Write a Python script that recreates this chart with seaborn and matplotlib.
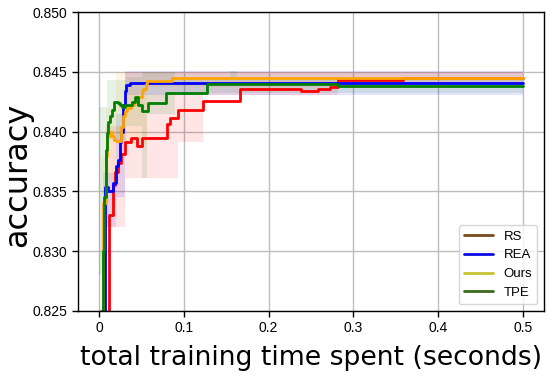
import pandas as pd
import matplotlib
matplotlib.use('Agg')
import matplotlib.pyplot as plt
from matplotlib.lines import Line2D
import seaborn as sns

# step curves (best accuracy so far vs time)
rs_t = [0.008, 0.012, 0.016, 0.019, 0.022, 0.026, 0.030, 0.038, 0.045, 0.051, 0.080, 0.084, 0.093,
        0.122, 0.166, 0.238, 0.258, 0.272, 0.282, 0.359, 0.500]
rs_acc = [0.800, 0.8330, 0.8355, 0.8366, 0.8374, 0.8381, 0.8391, 0.8395, 0.8388, 0.8395, 0.8406, 0.8411, 0.8418,
          0.8426, 0.8436, 0.8434, 0.8436, 0.8437, 0.8443, 0.8445, 0.8445]

rea_t = [0.005, 0.007, 0.010, 0.016, 0.020, 0.022, 0.025, 0.026, 0.028, 0.030, 0.032, 0.036, 0.500]
rea_acc = [0.800, 0.8354, 0.8350, 0.8357, 0.8371, 0.8376, 0.8391, 0.8400, 0.8422, 0.8434, 0.8439, 0.8441, 0.8441]

ours_t = [0.002, 0.005, 0.008, 0.0095, 0.0125, 0.0155, 0.0175, 0.020, 0.0255, 0.028, 0.031, 0.033, 0.037,
          0.041, 0.045, 0.050, 0.052, 0.055, 0.057, 0.086, 0.500]
ours_acc = [0.800, 0.8340, 0.8380, 0.8396, 0.8400, 0.8396, 0.8393, 0.8392, 0.8404, 0.8413, 0.8417, 0.8420, 0.8422,
            0.8425, 0.8429, 0.8434, 0.8436, 0.8440, 0.8442, 0.8445, 0.8445]

tpe_t = [0.000, 0.002, 0.004, 0.006, 0.0075, 0.009, 0.010, 0.0125, 0.015, 0.0175, 0.0222, 0.025, 0.0275,
         0.030, 0.0385, 0.042, 0.046, 0.051, 0.058, 0.079, 0.127, 0.282, 0.500]
tpe_acc = [0.780, 0.8250, 0.8300, 0.8345, 0.8385, 0.8399, 0.8408, 0.8413, 0.8418, 0.8425, 0.8424, 0.8422, 0.8421,
           0.8422, 0.8425, 0.8429, 0.8422, 0.8417, 0.8424, 0.8432, 0.8440, 0.8438, 0.8438]

# shaded spread bands
rs_band_t = [0.008, 0.030, 0.093, 0.122, 0.282, 0.500]
rs_lo = [0.8320, 0.8361, 0.8391, 0.8431, 0.8441, 0.8441]
rs_hi = [0.8405, 0.8450, 0.8450, 0.8450, 0.8450, 0.8450]

rea_band_t = [0.005, 0.020, 0.030, 0.500]
rea_lo = [0.8320, 0.8345, 0.8431, 0.8431]
rea_hi = [0.8365, 0.8415, 0.8451, 0.8451]

ours_band_t = [0.002, 0.008, 0.020, 0.057, 0.500]
ours_lo = [0.8290, 0.8360, 0.8390, 0.8437, 0.8437]
ours_hi = [0.8380, 0.8420, 0.8450, 0.8450, 0.8450]

tpe_band_t = [0.000, 0.009, 0.032, 0.050, 0.057, 0.089, 0.155, 0.163, 0.500]
tpe_lo = [0.8280, 0.8393, 0.8405, 0.8361, 0.8415, 0.8432, 0.8432, 0.8432, 0.8431]
tpe_hi = [0.8421, 0.8443, 0.8446, 0.8450, 0.8450, 0.8445, 0.8451, 0.8445, 0.8445]

methods = ['RS', 'REA', 'Ours', 'TPE']
line_colors = ['#ff0000', '#0000ff', '#ffa500', '#008000']
legend_colors = ['#7b4a1c', '#0a0ae6', '#c9c232', '#3b6a18']

frames = []
for name, t, acc in zip(methods, [rs_t, rea_t, ours_t, tpe_t], [rs_acc, rea_acc, ours_acc, tpe_acc]):
    frames.append(pd.DataFrame({'time': t, 'accuracy': acc, 'method': name}))
df = pd.concat(frames, ignore_index=True)

bands = [(rs_band_t, rs_lo, rs_hi), (rea_band_t, rea_lo, rea_hi),
         (ours_band_t, ours_lo, ours_hi), (tpe_band_t, tpe_lo, tpe_hi)]

sns.set_theme(style='ticks')
plt.rcParams['font.family'] = ['Liberation Sans', 'DejaVu Sans']
plt.rcParams['text.color'] = 'black'
plt.rcParams['axes.labelcolor'] = 'black'

fig = plt.figure(figsize=(5.5, 3.76), dpi=100)
ax = fig.add_axes([0.1418, 0.1729, 0.8472, 0.7951])

for (bt, lo, hi), c in zip(bands, line_colors):
    ax.fill_between(bt, lo, hi, step='post', color=c, alpha=0.1, linewidth=0)

sns.lineplot(data=df, x='time', y='accuracy', hue='method', hue_order=methods,
             palette=line_colors, estimator=None, sort=False, drawstyle='steps-post',
             linewidth=2, legend=False, ax=ax)

ax.set_xlim(-0.025, 0.525)
ax.set_ylim(0.825, 0.850)
ax.set_xticks([0, 0.1, 0.2, 0.3, 0.4, 0.5])
ax.set_xticklabels(['0', '0.1', '0.2', '0.3', '0.4', '0.5'])
ax.set_yticks([0.825, 0.830, 0.835, 0.840, 0.845, 0.850])
ax.set_yticklabels(['0.825', '0.830', '0.835', '0.840', '0.845', '0.850'])
ax.tick_params(labelsize=10, colors='black', length=4, width=1)
ax.grid(True, color='#bdbdbd', linewidth=1)
for s in ax.spines.values():
    s.set_color('black')
    s.set_linewidth(1)

ax.set_xlabel('total training time spent (seconds)', fontsize=19.2, family='DejaVu Sans', labelpad=7)
ax.set_ylabel('accuracy', fontsize=23, family='DejaVu Sans')
ax.yaxis.set_label_coords(-0.096, 0.455)

handles = [Line2D([0], [0], color=c, lw=2) for c in legend_colors]
ax.legend(handles, methods, loc='lower right', fontsize=9.5, frameon=True, fancybox=True,
          edgecolor='#cccccc', handlelength=2.2)

fig.savefig('out.png', dpi=100)
